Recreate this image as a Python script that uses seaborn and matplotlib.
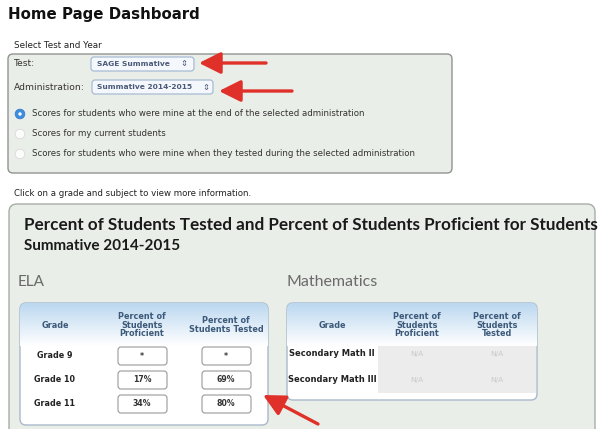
import numpy as np
import matplotlib
matplotlib.use("Agg")
import matplotlib.pyplot as plt
import seaborn as sns
from matplotlib.patches import FancyBboxPatch, Circle

sns.set_theme(style="white")
plt.rcParams['font.family'] = ['DejaVu Sans']

# data shown on the dashboard
test_name = "SAGE Summative"
admin_name = "Summative 2014-2015"
radio_options = [
    "Scores for students who were mine at the end of the selected administration",
    "Scores for my current students",
    "Scores for students who were mine when they tested during the selected administration",
]
ela_grades = ["Grade 9", "Grade 10", "Grade 11"]
ela_proficient = ["*", "17%", "34%"]
ela_tested = ["*", "69%", "80%"]
math_courses = ["Secondary Math II", "Secondary Math III"]
math_proficient = ["N/A", "N/A"]
math_tested = ["N/A", "N/A"]

panel_bg = "#eaeee8"
red = "#e0302a"
title_font = ["Lato", "DejaVu Sans"]

fig = plt.figure(figsize=(5.98, 4.29), dpi=100)
ax = fig.add_axes([0, 0, 1, 1])
ax.set_xlim(0, 598)
ax.set_ylim(429, 0)
ax.axis("off")


def rbox(x, y, w, h, fc, ec, r=4, lw=0.8, z=1):
    p = FancyBboxPatch((x, y), w, h, boxstyle=f"round,pad=0,rounding_size={r}",
                       fc=fc, ec=ec, lw=lw, zorder=z)
    ax.add_patch(p)
    return p


def arrow(x0, y0, x1, y1):
    ax.annotate("", xy=(x1, y1), xytext=(x0, y0),
                arrowprops=dict(arrowstyle="-|>,head_length=1.1,head_width=0.55",
                                color=red, lw=2.4, shrinkA=0, shrinkB=0), zorder=10)


# heading
ax.text(8, 15, "Home Page Dashboard", fontsize=10.8, fontweight="bold",
        va="center", ha="left", color="#111111")
ax.text(14, 45, "Select Test and Year", fontsize=6.3, va="center", color="#222222")

# top panel
rbox(8, 54, 444, 119, panel_bg, "#8f948f", r=5, lw=1.0)
ax.text(14, 64, "Test:", fontsize=6.6, va="center", color="#333333")
ax.text(14, 88, "Administration:", fontsize=6.6, va="center", color="#333333")
rbox(91, 57, 103, 14, "#f4f7fb", "#9fb4cf", r=3)
ax.text(97, 64, test_name, fontsize=5.4, va="center", color="#4a5a78", fontweight="bold")
ax.text(184, 64, "\u21d5", fontsize=6, va="center", ha="center", color="#4a5a78")
rbox(92, 80, 121, 14, "#f4f7fb", "#9fb4cf", r=3)
ax.text(97, 87, admin_name, fontsize=5.4, va="center", color="#4a5a78", fontweight="bold")
ax.text(206, 87, "\u21d5", fontsize=6, va="center", ha="center", color="#4a5a78")
arrow(266, 63, 199, 63)
arrow(292, 91, 219, 91)

for i, opt in enumerate(radio_options):
    yy = [114, 134, 154][i]
    if i == 0:
        ax.add_patch(Circle((20, yy), 4.8, fc="#3d8ee0", ec="#3a7cc6", lw=0.6, zorder=3))
        ax.add_patch(Circle((20, yy), 1.7, fc="white", ec="none", zorder=4))
    else:
        ax.add_patch(Circle((20, yy), 4.8, fc="#fbfbfb", ec="#dadada", lw=0.6, zorder=3))
    ax.text(32, yy, opt, fontsize=6.2, va="center", color="#333333")

ax.text(14, 193, "Click on a grade and subject to view more information.",
        fontsize=6.2, va="center", color="#222222")

# main panel
rbox(9, 204, 586, 260, panel_bg, "#a7aca7", r=8, lw=1.0)
ax.text(24, 225, "Percent of Students Tested and Percent of Students Proficient for Students",
        fontsize=12.3, fontweight="bold", va="center", color="#1a1a1a", family=title_font)
ax.text(24, 246, "Summative 2014-2015", fontsize=11.0, fontweight="bold", va="center",
        color="#1a1a1a", family=title_font)
ax.text(18, 282, "ELA", fontsize=11, va="center", color="#6a6a6a", family=title_font)
ax.text(287, 282, "Mathematics", fontsize=11.5, va="center", color="#6a6a6a",
        family=title_font)

grad = np.linspace(0, 1, 64).reshape(-1, 1)
head_cmap = matplotlib.colors.LinearSegmentedColormap.from_list("h", ["#ffffff", "#bcd8f0"])


def draw_table(x0, x1, y0, y1, cx, head_tested, labels, prof, tested, boxed, row_y, lab_fs):
    box = rbox(x0, y0, x1 - x0, y1 - y0, "white", "#a9b9c9", r=6, lw=1.0, z=2)
    im = ax.imshow(grad, extent=(x0, x1, y0 + 43, y0), cmap=head_cmap,
                   aspect="auto", zorder=3, origin="lower")
    im.set_clip_path(box)
    heads = ["Grade", "Percent of\nStudents\nProficient", head_tested]
    for c, h in zip(cx, heads):
        ax.text(c, y0 + 22, h, fontsize=5.9, fontweight="bold", ha="center",
                va="center", color="#3d5a7a", linespacing=0.9, zorder=5)
    if not boxed:
        ax.add_patch(plt.Rectangle((x0 + 91, y0 + 43), x1 - x0 - 92,
                                   row_y[-1] - y0 - 30, fc="#ececec", ec="none", zorder=3))
    for lab, p, t, ry in zip(labels, prof, tested, row_y):
        ax.text(cx[0], ry, lab, fontsize=lab_fs, fontweight="bold", ha="center",
                va="center", color="#222222", zorder=5)
        for c, v in zip(cx[1:], [p, t]):
            if boxed:
                rbox(c - 24, ry - 9, 49, 18, "white", "#9a9a9a", r=3, lw=0.8, z=4)
                ax.text(c, ry, v, fontsize=5.6, fontweight="bold", ha="center",
                        va="center", color="#333333", zorder=5)
            else:
                ax.text(c, ry, v, fontsize=5.4, ha="center", va="center",
                        color="#c9c9c9", zorder=5)


draw_table(20, 268, 303, 425, [55, 142, 226], "Percent of\nStudents Tested",
           ela_grades, ela_proficient, ela_tested, True, [356, 380, 404], 5.8)
draw_table(287, 537, 303, 400, [332, 417, 497], "Percent of\nStudents\nTested",
           math_courses, math_proficient, math_tested, False, [354, 380], 6.0)

arrow(318, 424, 263, 395)

fig.savefig("out.png", dpi=100)
